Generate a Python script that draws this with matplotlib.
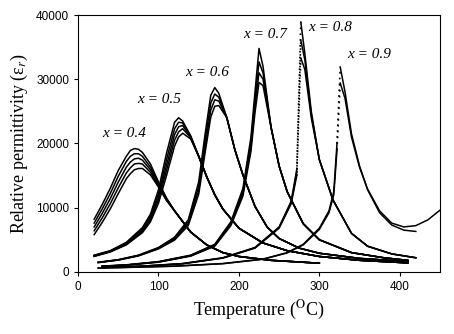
import matplotlib
matplotlib.use('Agg')
import matplotlib.pyplot as plt

plt.rcParams['font.family'] = 'Liberation Sans'
plt.rcParams['mathtext.fontset'] = 'stix'

# x = 0.4 (five frequencies, merge above ~120 C)
t40 = [20, 30, 40, 50, 60, 65, 70, 75, 80, 90, 100, 110, 120, 140, 160, 180, 200, 240, 280, 300]
tail40 = [9500, 6200, 4200, 3000, 2400, 1800, 1500, 1350]
e40 = [
    [8200, 10500, 13000, 15800, 18000, 18900, 19200, 19100, 18600, 16800, 14000, 11500],
    [7600, 9800, 12200, 14900, 17200, 18000, 18400, 18400, 18000, 16300, 13800, 11400],
    [7000, 9100, 11400, 14000, 16300, 17100, 17600, 17700, 17400, 15900, 13600, 11300],
    [6400, 8400, 10600, 13100, 15400, 16200, 16800, 16900, 16800, 15500, 13400, 11200],
    [5800, 7700, 9800, 12200, 14500, 15300, 15900, 16100, 16100, 15100, 13200, 11100],
]

# x = 0.5
t50 = [20, 40, 60, 80, 90, 100, 110, 120, 125, 130, 140, 150, 160, 170, 180, 200, 230, 260, 300, 350, 410]
tail50 = [18000, 14800, 12000, 9800, 6800, 4500, 3300, 2400, 1800, 1400]
e50 = [
    [2600, 3300, 4600, 6900, 9000, 12800, 18500, 23300, 24000, 23500, 21200],
    [2550, 3250, 4500, 6700, 8700, 12200, 17500, 22300, 23300, 23200, 21100],
    [2500, 3200, 4400, 6500, 8400, 11700, 16600, 21400, 22600, 22800, 21000],
    [2450, 3150, 4300, 6300, 8100, 11200, 15800, 20500, 21800, 22300, 20900],
    [2400, 3100, 4200, 6100, 7800, 10700, 15000, 19600, 21000, 21600, 20700],
]

# x = 0.6
t60 = [25, 50, 75, 100, 120, 137, 150, 158, 165, 170, 175, 185, 195, 205, 220, 235, 250, 275, 300, 350, 410]
tail60 = [24000, 19000, 15100, 10200, 7000, 5200, 3700, 2900, 2100, 1600]
e60 = [
    [1500, 1900, 2600, 3800, 5400, 8100, 14000, 21500, 27500, 28700, 27800],
    [1480, 1880, 2560, 3720, 5250, 7800, 13300, 20500, 26300, 27700, 27200],
    [1460, 1860, 2520, 3650, 5100, 7500, 12700, 19500, 25200, 26800, 26600],
    [1440, 1840, 2480, 3580, 4950, 7200, 12100, 18600, 24100, 25800, 25900],
]

# x = 0.7
t70 = [30, 60, 100, 140, 170, 190, 205, 215, 220, 225, 230, 240, 250, 260, 280, 300, 340, 380, 410]
tail70 = [22500, 16500, 12500, 7500, 5000, 3000, 2200, 1800]
e70 = [
    [900, 1100, 1600, 2600, 4300, 7800, 13000, 21000, 28000, 34800, 32000],
    [880, 1080, 1570, 2550, 4200, 7600, 12600, 20200, 26800, 32700, 31000],
    [860, 1060, 1540, 2500, 4100, 7400, 12200, 19500, 25800, 31000, 30000],
    [840, 1040, 1510, 2450, 4000, 7200, 11800, 18800, 24800, 29500, 29000],
]

# x = 0.8
t80 = [30, 80, 130, 180, 220, 250, 265, 272, 277, 282, 290, 300, 317, 340, 360, 390, 420]
tail80 = [17500, 11200, 6000, 4000, 2800, 2200]
e80 = [
    [700, 900, 1300, 2200, 3800, 7000, 11000, 16000, 38900, 34000, 25000],
    [690, 890, 1280, 2170, 3750, 6900, 10800, 15500, 36100, 33000, 24500],
    [680, 880, 1260, 2140, 3700, 6800, 10600, 15000, 33300, 31500, 24000],
]

# x = 0.9
t90 = [25, 60, 120, 180, 230, 260, 280, 300, 312, 318, 322, 326, 332, 340, 350, 360, 375, 390, 405, 420, 435, 450]
e90_hi = [600, 700, 900, 1300, 2000, 3000, 4300, 6800, 9500, 12500, 20000, 31900, 28000,
          21500, 16500, 12800, 9200, 7300, 6500, 6300]
e90_lo = [590, 690, 880, 1270, 1960, 2950, 4200, 6600, 9200, 12000, 19000, 29400, 27000,
          21000, 16300, 12900, 9500, 7600, 7000, 7200, 8100, 9600]

labels = ['x = 0.4', 'x = 0.5', 'x = 0.6', 'x = 0.7', 'x = 0.8', 'x = 0.9']
label_t = [30, 74, 133, 205, 286, 335]
label_e = [21600, 26800, 31100, 36900, 38100, 33800]

fig = plt.figure(figsize=(4.54, 3.34), dpi=100)
ax = fig.add_axes([0.172, 0.186, 0.797, 0.769])


def draw(t, e, jump=None):
    # jump = index where the steep rise is only sampled by a few points (drawn dotted)
    if jump is None:
        ax.plot(t, e, color='black', lw=1.1)
        return
    ax.plot(t[:jump + 1], e[:jump + 1], color='black', lw=1.1)
    ax.plot(t[jump:jump + 2], e[jump:jump + 2], color='black', lw=1.2, ls=(0, (1, 2.5)))
    ax.plot(t[jump + 1:], e[jump + 1:], color='black', lw=1.1)


for t, rows, tail in [(t40, e40, tail40), (t50, e50, tail50), (t60, e60, tail60), (t70, e70, tail70)]:
    for r in rows:
        draw(t, r + tail)
for r in e80:
    draw(t80, r + tail80, jump=7)
draw(t90[:len(e90_hi)], e90_hi, jump=10)
draw(t90, e90_lo, jump=10)

for s, tx, ey in zip(labels, label_t, label_e):
    ax.text(tx, ey, s, family='Liberation Serif', style='italic', fontsize=11, va='center')

ax.set_xlim(0, 450)
ax.set_ylim(0, 40000)
ax.set_xticks([0, 100, 200, 300, 400])
ax.set_yticks([0, 10000, 20000, 30000, 40000])
ax.tick_params(labelsize=8.5, length=3, top=False, right=False)
ax.set_xlabel('Temperature ($^\\mathrm{O}$C)', family='Liberation Serif', fontsize=13)
ax.set_ylabel('Relative permittivity (\u03b5$_r$)', family='Liberation Serif', fontsize=13)

fig.savefig('out.png', dpi=100)
